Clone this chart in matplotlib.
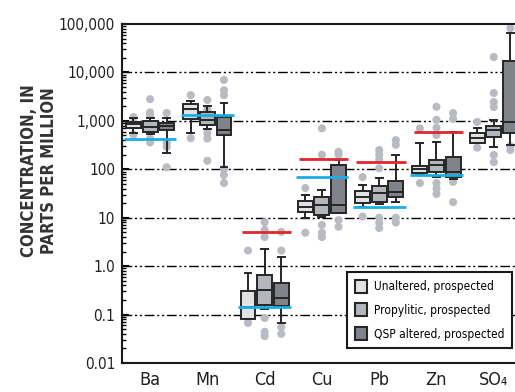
import numpy as np
import matplotlib
matplotlib.use("Agg")
import matplotlib.pyplot as plt
from matplotlib.patches import Patch

plt.rcParams['font.family'] = ['DejaVu Sans']
plt.rcParams['font.stretch'] = 'condensed'

# categories along the x axis
categories = ['Ba', 'Mn', 'Cd', 'Cu', 'Pb', 'Zn', 'SO₄']
series_names = ['Unaltered, prospected', 'Propylitic, prospected', 'QSP altered, prospected']

# box stats per category: (whisker low, q1, median, q3, whisker high), ppm
unaltered = [
    (560, 710, 860, 950, 1150),
    (560, 1100, 1770, 2250, 2600),
    (0.08, 0.08, 0.144, 0.31, 0.72),
    (10, 13, 16.6, 22, 30),
    (17, 20, 27, 36, 48),
    (80, 84, 102, 118, 350),
    (350, 350, 440, 560, 700),
]
unaltered_out = [[1200, 520], [3400, 440], [2.1, 0.067], [41, 4.9],
                 [69, 10.6], [700, 52], [950, 280]]

propylitic = [
    (537, 590, 750, 990, 1150),
    (690, 820, 1050, 1550, 2000),
    (0.13, 0.16, 0.32, 0.66, 2.27),
    (10.5, 11.4, 18.4, 27, 37.5),
    (19, 21, 33, 45, 66),
    (70, 88, 123, 156, 370),
    (290, 460, 650, 800, 1040),
]
propylitic_out = [[2800, 1500, 1300, 430, 360], [2700, 1700, 560, 430, 150],
                  [8.1, 5.6, 4.0, 0.085, 0.044, 0.036], [700, 200, 7.1, 4.9, 4.0],
                  [250, 200, 160, 105, 10, 7.8, 6.1], [1950, 1050, 720, 510, 52, 40, 31],
                  [20800, 3760, 2450, 1930, 197, 141]]

qsp = [
    (217, 650, 780, 900, 1150),
    (110, 510, 650, 1200, 2330),
    (0.067, 0.15, 0.22, 0.45, 1.55),
    (12.6, 12.6, 18.4, 123, 155),
    (21, 27, 34, 57.5, 200),
    (63, 70, 88, 180, 590),
    (316, 561, 946, 17200, 65000),
]
qsp_out = [[1450, 350, 290, 110], [7000, 4300, 3400, 100, 76, 52],
           [5.1, 2.1, 0.055, 0.04], [230, 200, 8.9, 6.5], [400, 320, 10, 8],
           [1450, 1100, 55, 21], [82000, 300, 250]]

# reference levels (blue and red horizontal lines)
blue_level = [420, 1300, 0.145, 69, 16.5, 77, np.nan]
red_level = [np.nan, np.nan, 5.1, 163, 140, 590, np.nan]

ytick_vals = [0.01, 0.1, 1, 10, 100, 1000, 10000, 100000]
ytick_labels = ['0.01', '0.1', '1.0', '10', '100', '1,000', '10,000', '100,000']

face_colors = ['#e1e2e4', '#b3b6bb', '#80848a']
edge = '#262626'
dot_color = '#b8bcc2'

fig = plt.figure(figsize=(5.15, 3.92), dpi=100)
ax = fig.add_axes([122/515, 29/392, 401/515, 339/392])
ax.set_yscale('log')
ax.set_ylim(0.01, 100000)
ax.set_xlim(0.51, 7.51)

# gridlines
for v in ytick_vals[1:-1]:
    ax.axhline(v, color='black', lw=1.0, ls=(0, (7, 2, 1.5, 2, 1.5, 2)), zorder=1)

offsets = [-0.29, 0.0, 0.29]
width = 0.26
groups = [(unaltered, unaltered_out), (propylitic, propylitic_out), (qsp, qsp_out)]
for j, (stats, outs) in enumerate(groups):
    bstats = []
    pos = []
    for i, s in enumerate(stats):
        lo, q1, med, q3, hi = s
        bstats.append(dict(whislo=lo, q1=q1, med=med, q3=q3, whishi=hi, fliers=[]))
        pos.append(i + 1 + offsets[j])
        ax.scatter([i + 1 + offsets[j]] * len(outs[i]), outs[i], s=34,
                   color=dot_color, edgecolors='none', zorder=2)
    ax.bxp(bstats, positions=pos, widths=width, showfliers=False, patch_artist=True,
           boxprops=dict(facecolor=face_colors[j], edgecolor=edge, linewidth=1.4),
           medianprops=dict(color=edge, linewidth=1.4),
           whiskerprops=dict(color=edge, linewidth=1.4),
           capprops=dict(color=edge, linewidth=1.4),
           capwidths=0.12, zorder=3, manage_ticks=False)

x = np.arange(1, len(categories) + 1)
ax.hlines(blue_level, x - 0.46, x + 0.46, color='#1aaee8', lw=2, zorder=4)
ax.hlines(red_level, x - 0.4, x + 0.46, color='#e0262e', lw=2, zorder=4)

ax.set_xticks(x)
ax.set_xticklabels(categories, fontsize=13, color='#231f20')
ax.tick_params(axis='x', length=0, pad=6)
ax.set_yticks(ytick_vals)
ax.set_yticklabels(ytick_labels, fontsize=11, color='#231f20')
ax.tick_params(axis='y', which='major', direction='in', length=5, width=1.5, pad=5)
ax.tick_params(axis='y', which='minor', direction='in', length=3, width=1)
for sp in ['left', 'top', 'bottom']:
    ax.spines[sp].set_linewidth(1.5)
    ax.spines[sp].set_color('#1a1a1a')
ax.spines['right'].set_visible(False)

fig.text(39/515, 1 - 171/392, 'CONCENTRATION, IN\nPARTS PER MILLION', rotation=90,
         ha='center', va='center', fontsize=12, fontweight='bold', color='#333333',
         linespacing=1.15)

handles = [Patch(facecolor=c, edgecolor=edge, linewidth=1.5) for c in face_colors]
leg = ax.legend(handles, series_names, loc='upper left', bbox_to_anchor=(347/515, 1 - 272/392),
                bbox_transform=fig.transFigure, fancybox=False, framealpha=1,
                edgecolor='#1a1a1a', fontsize=8.6, handlelength=1.0, handleheight=1.3,
                handletextpad=0.6, labelspacing=0.85, borderpad=0.65, borderaxespad=0)
leg.get_frame().set_linewidth(1.5)
leg.set_zorder(10)

fig.savefig('out.png', dpi=100)
